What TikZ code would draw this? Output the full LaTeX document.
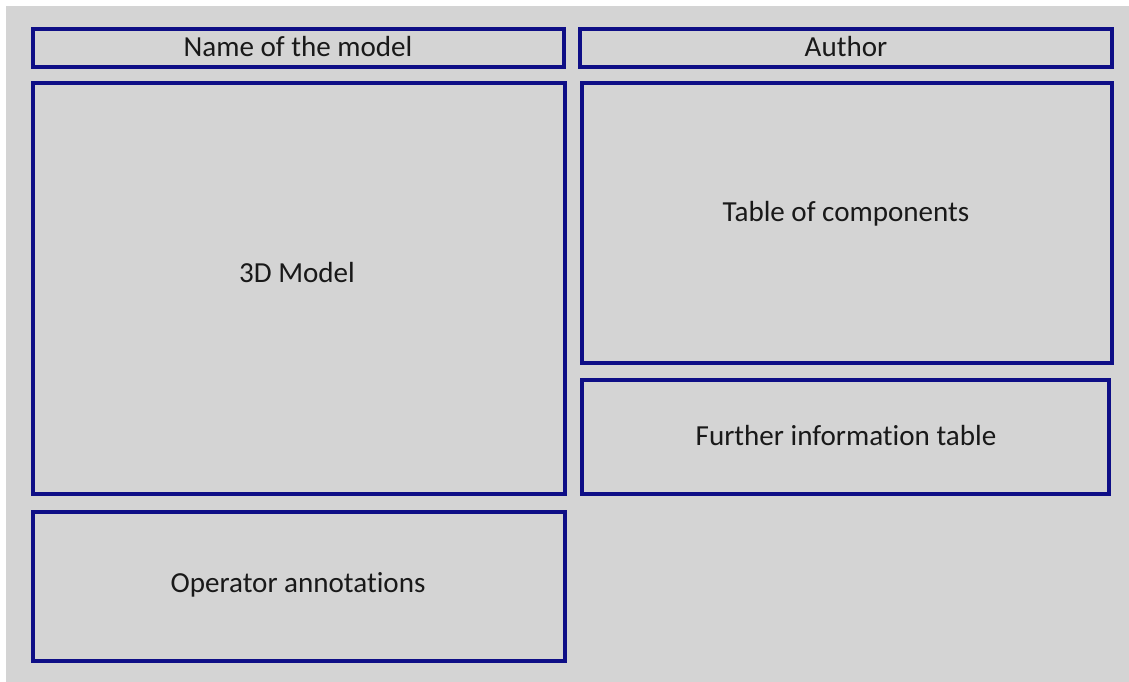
\documentclass[tikz,border=0pt]{standalone}
\usepackage{fontspec}
\setmainfont{Carlito}[Ligatures=NoCommon]
\usetikzlibrary{positioning, fit, calc}

\definecolor{panelblue}{RGB}{14,14,134}
\definecolor{sheetgray}{RGB}{212,212,212}

\begin{document}
\begin{tikzpicture}[x=0.75pt,y=-0.75pt,
  panel/.style={rectangle,draw=panelblue,line width=2.4pt,inner sep=0pt},
  lbl/.style={font=\fontsize{21.8}{26}\selectfont,text=black!90,inner sep=0pt}
]
  \useasboundingbox[fill=white] (0,0) rectangle (1129,682);
  \fill[sheetgray] (6,6) rectangle (1129,682);

  % layout panels
  \node[panel,fit={(33,29) (564,67)}]   (name)    {};
  \node[panel,fit={(580,29) (1112,67)}] (author)  {};
  \node[panel,fit={(33,83) (565,494)}]  (model)   {};
  \node[panel,fit={(582,83) (1112,363)}](comps)   {};
  \node[panel,fit={(582,380) (1109,494)}](info)   {};
  \node[panel,fit={(33,512) (565,661)}] (notes)   {};

  % captions
  \node[lbl] (nameT)   at (298,47)  {Name of the model};
  \node[lbl] (authorT) at (846,47)  {Author};
  \node[lbl] (modelT)  at (297,273) {3D Model};
  \node[lbl] (compsT)  at (846,214) {Table of components};
  \node[lbl] (infoT)   at (846,436) {Further information table};
  \node[lbl] (notesT)  at (298,585) {Operator annotations};
\end{tikzpicture}
\end{document}
